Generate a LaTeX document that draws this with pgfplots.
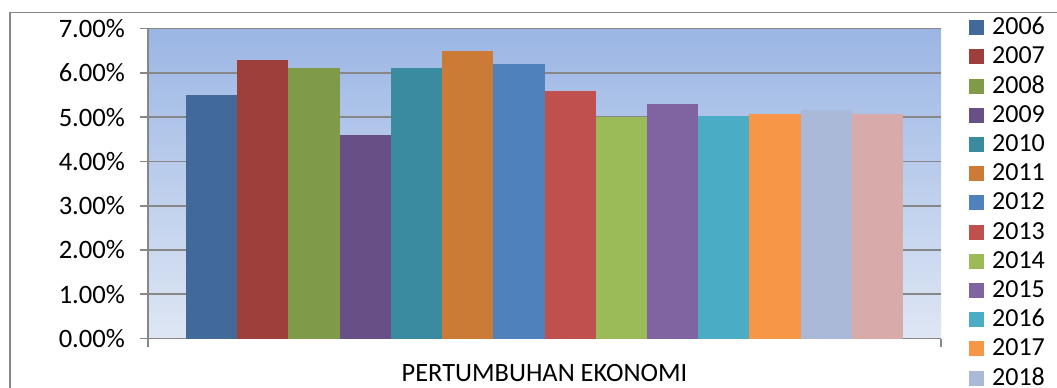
\documentclass[border=0pt]{standalone}
\usepackage{pgfplots}
\pgfplotsset{compat=1.18}
\usepackage{fontspec}
\setmainfont{Carlito}

\definecolor{c06}{HTML}{416A9B}
\definecolor{c07}{HTML}{9E3F3C}
\definecolor{c08}{HTML}{7F9A48}
\definecolor{c09}{HTML}{684F86}
\definecolor{c10}{HTML}{3B8BA0}
\definecolor{c11}{HTML}{CC7B36}
\definecolor{c12}{HTML}{4F81BD}
\definecolor{c13}{HTML}{C0504D}
\definecolor{c14}{HTML}{9BBB59}
\definecolor{c15}{HTML}{8064A2}
\definecolor{c16}{HTML}{4BACC6}
\definecolor{c17}{HTML}{F79646}
\definecolor{c18}{HTML}{AAB9D7}
\definecolor{c19}{HTML}{D9AAAA}
\definecolor{gridgray}{HTML}{878787}
\definecolor{bgtop}{HTML}{9BB6E4}
\definecolor{bgbot}{HTML}{DEE6F4}

\begin{document}
\begin{tikzpicture}[x=1pt,y=1pt]
\useasboundingbox (0,0) rectangle (528.5,193.5);
\clip (0,0) rectangle (528.5,193.5);
% chart frame
\draw[gridgray, line width=0.8pt] (5,-10) -- (5,187.25) -- (540,187.25);
\begin{axis}[
  at={(74pt,24.25pt)}, anchor=south west,
  scale only axis, width=396.5pt, height=155pt,
  xmin=-0.5, xmax=0.5, ymin=0, ymax=7,
  enlargelimits=false,
  ybar=0pt, bar width=25.6pt,
  axis x line*=bottom, axis y line*=left,
  axis line style={gridgray, line width=0.85pt},
  xtick={-0.5,0.5}, xticklabels={,},
  ytick={0,1,2,3,4,5,6,7},
  tick align=outside, major tick length=4pt,
  tick style={gridgray, line width=0.85pt},
  ymajorgrids, grid style={gridgray, line width=0.85pt},
  axis background/.style={top color=bgtop, bottom color=bgbot},
  /pgf/number format/assume math mode=true,
  yticklabel={\pgfmathprintnumber[fixed,fixed zerofill,precision=2]{\tick}\%},
  yticklabel style={font=\fontsize{13.3}{15}\selectfont, xshift=-4pt},
  xlabel={PERTUMBUHAN EKONOMI},
  xlabel style={at={(axis description cs:0.5,0)}, anchor=base, yshift=-21.4pt,
    font=\fontsize{13.2}{15}\selectfont},
  legend cell align=left,
  legend image code/.code={
    \path[draw=none, fill=none] (0pt,-7.3pt) rectangle (7.5pt,7.3pt);
    \fill[#1] (0pt,-3.75pt) rectangle (7.5pt,3.75pt);
  },
  legend style={at={(rel axis cs:1.035,1.051)}, anchor=north west,
    draw=none, fill=none, inner sep=0pt, row sep=0pt, column sep=4pt,
    font=\fontsize{13}{15}\selectfont,
    nodes={inner sep=0pt}},
]
\addplot[fill=c06, draw=none] coordinates {(0,5.50)}; \addlegendentry{2006}
\addplot[fill=c07, draw=none] coordinates {(0,6.29)}; \addlegendentry{2007}
\addplot[fill=c08, draw=none] coordinates {(0,6.11)}; \addlegendentry{2008}
\addplot[fill=c09, draw=none] coordinates {(0,4.59)}; \addlegendentry{2009}
\addplot[fill=c10, draw=none] coordinates {(0,6.10)}; \addlegendentry{2010}
\addplot[fill=c11, draw=none] coordinates {(0,6.49)}; \addlegendentry{2011}
\addplot[fill=c12, draw=none] coordinates {(0,6.19)}; \addlegendentry{2012}
\addplot[fill=c13, draw=none] coordinates {(0,5.58)}; \addlegendentry{2013}
\addplot[fill=c14, draw=none] coordinates {(0,5.01)}; \addlegendentry{2014}
\addplot[fill=c15, draw=none] coordinates {(0,5.29)}; \addlegendentry{2015}
\addplot[fill=c16, draw=none] coordinates {(0,5.02)}; \addlegendentry{2016}
\addplot[fill=c17, draw=none] coordinates {(0,5.07)}; \addlegendentry{2017}
\addplot[fill=c18, draw=none] coordinates {(0,5.17)}; \addlegendentry{2018}
\addplot[fill=c19, draw=none] coordinates {(0,5.07)}; \addlegendentry{2019}
\end{axis}
\end{tikzpicture}
\end{document}
